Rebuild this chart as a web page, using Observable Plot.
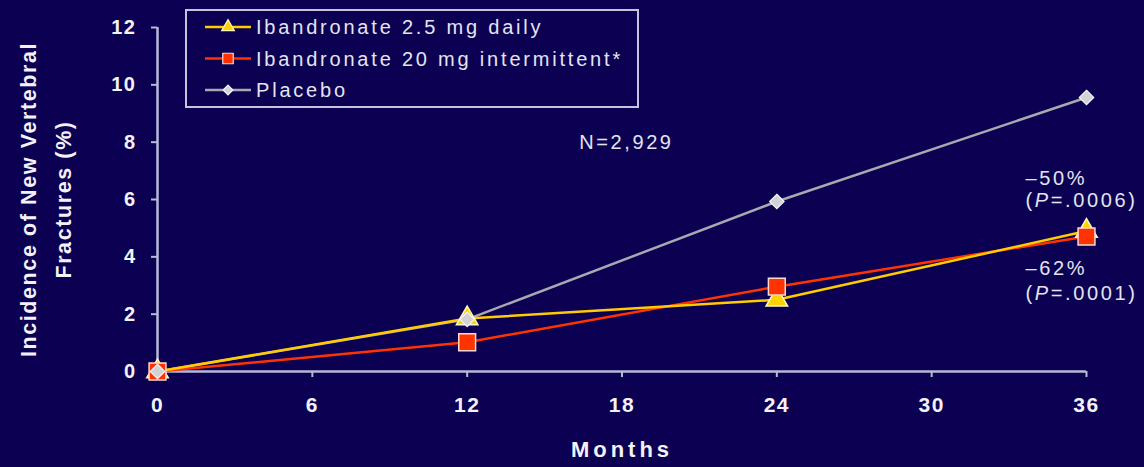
<!DOCTYPE html>
<html>
<head>
<meta charset="utf-8">
<script src="https://cdn.jsdelivr.net/npm/d3@7"></script>
<script src="https://cdn.jsdelivr.net/npm/@observablehq/plot@0.6"></script>
<style>
  html, body { margin: 0; padding: 0; background: #0b0052; }
  #chart svg { display: block; }
</style>
</head>
<body>
<div id="chart"></div>
<script>
// Incidence of new vertebral fractures (%) by study month
const months = [0, 12, 24, 36];
const seriesNames = ["Ibandronate 2.5 mg daily", "Ibandronate 20 mg intermittent*", "Placebo"];
const dailyValues = [0, 1.85, 2.5, 4.9];
const intermittentValues = [0, 1.02, 2.96, 4.71];
const placeboValues = [0, 1.82, 5.93, 9.56];
const xTicks = [0, 6, 12, 18, 24, 30, 36];
const yTicks = [0, 2, 4, 6, 8, 10, 12];
const sampleSize = "N=2,929";
const reductionNotes = ["–50%", "(P=.0006)", "–62%", "(P=.0001)"];

const seriesValues = [dailyValues, intermittentValues, placeboValues];
const rows = seriesNames.flatMap((name, i) =>
  months.map((m, j) => ({series: name, month: m, value: seriesValues[i][j]}))
);
const bySeries = name => rows.filter(d => d.series === name);

const bg = "#0b0052";
const axisColor = "#b8b8d8";
const textColor = "#f2f2f8";
const lineColors = ["#ffcc00", "#ff3300", "#a8a8b0"];

// where the reduction notes sit, in chart units
const notes = [
  {month: 33.64, value: 6.73, text: reductionNotes[0]},
  {month: 33.64, value: 5.97, text: reductionNotes[1]},
  {month: 33.64, value: 3.59, text: reductionNotes[2]},
  {month: 33.64, value: 2.72, text: reductionNotes[3]}
];

const chart = Plot.plot({
  width: 1144,
  height: 467,
  marginLeft: 157,
  marginRight: 58,
  marginTop: 27,
  marginBottom: 96,
  style: {background: bg, color: textColor, fontFamily: "'Liberation Sans', Arial, sans-serif"},
  x: {domain: [0, 36]},
  y: {domain: [0, 12]},
  color: {domain: seriesNames, range: lineColors},
  marks: [
    Plot.axisX({ticks: xTicks, tickSize: 6, tickPadding: 20, stroke: axisColor, strokeWidth: 2,
      fill: textColor, fontSize: 21, fontWeight: "bold", label: null}),
    Plot.axisY({ticks: yTicks, tickSize: 6, tickPadding: 15, stroke: axisColor, strokeWidth: 2,
      fill: textColor, fontSize: 20, fontWeight: "bold", label: null}),
    Plot.ruleY([0], {stroke: axisColor, strokeWidth: 2.5}),
    Plot.ruleX([0], {stroke: axisColor, strokeWidth: 2.5}),
    Plot.line(rows, {x: "month", y: "value", z: "series", stroke: "series", strokeWidth: 2.5,
      sort: {channel: "z", order: "descending"}}),
    Plot.dot(bySeries(seriesNames[0]), {x: "month", y: "value", symbol: "triangle", r: 8,
      fill: "#ffd200", stroke: "#fff8c0", strokeWidth: 1.5}),
    Plot.dot(bySeries(seriesNames[1]), {x: "month", y: "value", symbol: "square", r: 9.5,
      fill: "#ff3300", stroke: "#ffd8d0", strokeWidth: 1.5}),
    Plot.dot(bySeries(seriesNames[2]), {x: "month", y: "value", symbol: "diamond2", r: 6.5,
      fill: "#d2d2d6", stroke: "#f4f4f8", strokeWidth: 1.2}),
    Plot.text([sampleSize], {x: 18.17, y: 7.99, text: d => d, fill: "#e4e4f0", fontSize: 20}),
    Plot.text(notes, {x: "month", y: "value", text: "text", textAnchor: "start", fill: "#e4e4f0", fontSize: 20}),
    Plot.text(["Incidence of New Vertebral\nFractures (%)"], {frameAnchor: "left", textAnchor: "middle",
      text: d => d, rotate: -90, dx: -115, lineHeight: 1.6, fill: textColor, fontSize: 21.5, fontWeight: "bold"}),
    Plot.text(["Months"], {frameAnchor: "bottom", textAnchor: "middle", text: d => d, dy: 85, fill: textColor,
      fontSize: 21, fontWeight: "bold"})
  ]
});

const svg = d3.select(chart);
svg.selectAll("text").attr("letter-spacing", "2.6px");
svg.selectAll('g[aria-label="x-axis tick label"] text, g[aria-label="y-axis tick label"] text')
  .attr("letter-spacing", "1.5px");
svg.selectAll("text").filter(function () { return this.textContent === "Months"; })
  .attr("letter-spacing", "4px").attr("font-size", 22);
svg.selectAll("text").filter(function () { return this.textContent.startsWith("Incidence"); })
  .attr("letter-spacing", "1.6px");

// italic P in the p-value notes
svg.selectAll("text").filter(function () { return this.textContent.startsWith("(P="); })
  .each(function () {
    const rest = this.textContent.slice(2);
    const t = d3.select(this).text(null);
    t.append("tspan").text("(");
    t.append("tspan").attr("font-style", "italic").text("P");
    t.append("tspan").text(rest);
  });

// legend box
const legend = svg.append("g")
  .attr("font-family", "'Liberation Sans', Arial, sans-serif")
  .attr("text-anchor", "start");
legend.append("rect").attr("x", 186).attr("y", 10).attr("width", 452).attr("height", 97)
  .attr("fill", bg).attr("stroke", "#c4c4e0").attr("stroke-width", 2);
const legendSymbols = [
  {type: d3.symbolTriangle, size: 70, fill: "#ffd200", stroke: "#fff8c0"},
  {type: d3.symbolSquare, size: 110, fill: "#ff3300", stroke: "#ffd8d0"},
  {type: d3.symbolDiamond2, size: 60, fill: "#d2d2d6", stroke: "#f4f4f8"}
];
seriesNames.forEach((name, i) => {
  const y = 27 + i * 31.5;
  legend.append("line").attr("x1", 205).attr("x2", 251).attr("y1", y).attr("y2", y)
    .attr("stroke", lineColors[i]).attr("stroke-width", 2.5);
  legend.append("path").attr("d", d3.symbol(legendSymbols[i].type, legendSymbols[i].size)())
    .attr("transform", `translate(228,${y})`)
    .attr("fill", legendSymbols[i].fill).attr("stroke", legendSymbols[i].stroke).attr("stroke-width", 1.2);
  legend.append("text").attr("x", 256).attr("y", y).attr("dy", "0.35em")
    .attr("text-anchor", "start")
    .attr("fill", "#e4e4f0").attr("font-size", 20).attr("letter-spacing", "2.8px").text(name);
});

document.getElementById("chart").appendChild(chart);
</script>
</body>
</html>
